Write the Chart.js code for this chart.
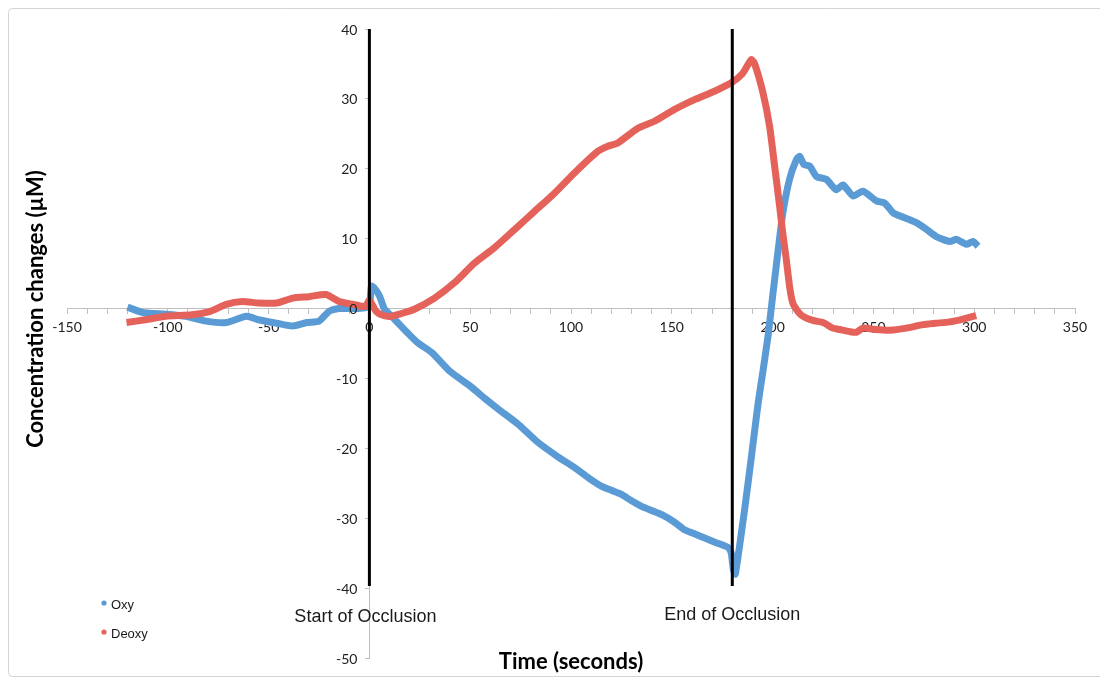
<!DOCTYPE html>
<html>
<head>
<meta charset="utf-8">
<title>Oxy / Deoxy occlusion</title>
<script src="https://cdn.jsdelivr.net/npm/chart.js@4"></script>
<style>
  html, body { margin: 0; padding: 0; background: #fff; }
  canvas { display: block; }
</style>
</head>
<body>
<canvas id="chart" width="1100" height="678"></canvas>
<script>
// Oxy (blue) - time in seconds, concentration change in µM
const oxyTime = [-120, -112, -101, -91, -81, -71, -61, -55, -46, -38, -31, -25, -20, -15, -8, -2.5, 0, 1, 2.5, 5, 7.5, 10, 14, 19, 24, 31, 40, 50, 57, 64, 74, 83, 93, 103, 109, 115, 120, 125, 130, 135, 140, 145, 151, 156, 161, 166, 172, 178, 179.5, 180.5, 181.5, 186, 189.4, 192.7, 195.3, 197.8, 200.2, 202.6, 205.1, 208.4, 211.8, 213.4, 215.5, 218.4, 221.7, 226.6, 231.6, 234.9, 239.9, 244.8, 251.5, 255.6, 259.8, 265.5, 271.3, 276, 281.2, 287.8, 291.2, 296.1, 299.4, 301.9];
const oxyValue = [0.2, -0.6, -0.8, -1.1, -1.8, -2.0, -1.1, -1.6, -2.1, -2.5, -2.0, -1.8, -0.4, 0.0, 0.0, 0.1, 0.5, 3.2, 2.9, 1.8, -0.1, -0.8, -2.0, -3.5, -4.9, -6.3, -9.0, -11.1, -12.8, -14.4, -16.6, -19.0, -21.1, -23.0, -24.3, -25.4, -26.0, -26.6, -27.5, -28.3, -28.9, -29.5, -30.5, -31.6, -32.2, -32.8, -33.5, -34.2, -35.0, -37.3, -38.0, -29.0, -21.4, -13.8, -8.8, -3.8, 2.2, 8.0, 13.7, 18.5, 21.3, 21.8, 20.6, 20.4, 18.9, 18.5, 17.0, 17.7, 16.1, 16.8, 15.4, 15.1, 13.7, 13.0, 12.3, 11.4, 10.3, 9.6, 9.9, 9.2, 9.6, 8.9];

// Deoxy (red)
const deoxyTime = [-120.5, -111, -101, -88, -79, -71, -63, -55, -46, -38, -30, -21.5, -15, -8, -2, 0, 3.3, 7, 10.8, 16, 22.3, 32.3, 42.2, 52.1, 62, 72, 81.9, 91.8, 101.7, 113.3, 118, 123.2, 133.2, 141.4, 151.4, 161.3, 171.2, 179.5, 185, 189.4, 191, 195.2, 198.5, 201, 203.5, 205, 206.8, 208.4, 210, 212.5, 215, 220, 225, 229.9, 233.3, 238.2, 241.5, 244.8, 251, 258, 266.4, 274.6, 281, 287.8, 294.5, 301];
const deoxyValue = [-2.0, -1.6, -1.1, -0.9, -0.4, 0.6, 1.0, 0.8, 0.8, 1.5, 1.7, 2.0, 1.0, 0.6, 0.3, 1.2, -0.4, -1.0, -1.1, -0.7, -0.1, 1.5, 3.7, 6.5, 8.7, 11.3, 13.9, 16.5, 19.4, 22.5, 23.2, 23.7, 25.8, 26.8, 28.5, 29.9, 31.1, 32.3, 33.6, 35.6, 35.1, 30.9, 26.1, 20.4, 14.6, 10.9, 7.0, 3.2, 0.8, -0.4, -1.1, -1.7, -2.0, -2.8, -3.0, -3.3, -3.4, -2.8, -3.0, -3.1, -2.8, -2.3, -2.1, -1.9, -1.5, -1.0];

// occlusion markers (seconds) and their labels
const occlusionTimes = [0, 180];
const occlusionLabels = ['Start of Occlusion', 'End of Occlusion'];
const markerTop = 40;
const markerBottom = -39.7;

const xRange = [-150, 350];
const yRange = [-50, 40];

const BLUE = '#5b9bd5';
const RED = '#e5625b';

const toPoints = (xs, ys) => xs.map((t, i) => ({ x: t, y: ys[i] }));

const decor = {
  id: 'decor',
  beforeDraw(chart) {
    const ctx = chart.ctx;
    ctx.save();
    ctx.strokeStyle = '#d4d4d4';
    ctx.lineWidth = 1;
    ctx.beginPath();
    ctx.roundRect(8.5, 8.5, 1100, 668, 4);
    ctx.stroke();
    ctx.restore();
  },
  afterDatasetsDraw(chart) {
    const { ctx, scales: { x, y } } = chart;
    // y tick labels, left of the centred axis (chart.js ignores padding there)
    ctx.save();
    ctx.fillStyle = '#222';
    ctx.font = '14px Lato, sans-serif';
    ctx.textAlign = 'right';
    ctx.textBaseline = 'middle';
    const axisX = x.getPixelForValue(0);
    y.ticks.forEach(t => ctx.fillText(String(t.value), axisX - 12, y.getPixelForValue(t.value) + 1));
    ctx.restore();

    ctx.save();
    ctx.strokeStyle = '#000';
    ctx.lineWidth = 3;
    ctx.fillStyle = '#1a1a1a';
    ctx.font = '18px "Liberation Sans", Arial, sans-serif';
    ctx.textAlign = 'center';
    ctx.textBaseline = 'middle';
    occlusionTimes.forEach((t, i) => {
      const px = x.getPixelForValue(t);
      ctx.beginPath();
      ctx.moveTo(px, y.getPixelForValue(markerTop));
      ctx.lineTo(px, y.getPixelForValue(markerBottom));
      ctx.stroke();
      ctx.fillText(occlusionLabels[i], px - (i === 0 ? 4 : 0), y.getPixelForValue(-44.1) - (i === 0 ? 0 : 2));
    });
    ctx.restore();
  },
  afterDraw(chart) {
    const ctx = chart.ctx;
    ctx.save();
    // axis titles
    ctx.fillStyle = '#000';
    ctx.font = 'bold 22px Lato, sans-serif';
    ctx.textAlign = 'center';
    ctx.textBaseline = 'middle';
    ctx.fillText('Time (seconds)', 571, 662);
    ctx.translate(36, 309);
    ctx.rotate(-Math.PI / 2);
    ctx.fillText('Concentration changes (µM)', 0, 0);
    ctx.restore();

    // legend
    ctx.save();
    ctx.font = '13px "Liberation Sans", Arial, sans-serif';
    ctx.textBaseline = 'middle';
    chart.data.datasets.forEach((ds, i) => {
      const cy = 604 + i * 29;
      ctx.fillStyle = ds.borderColor;
      ctx.beginPath();
      ctx.arc(104, cy - 1, 2.6, 0, Math.PI * 2);
      ctx.fill();
      ctx.fillStyle = '#1a1a1a';
      ctx.fillText(ds.label, 111, cy + 1);
    });
    ctx.restore();
  }
};

new Chart(document.getElementById('chart'), {
  type: 'scatter',
  data: {
    datasets: [
      {
        label: 'Oxy',
        data: toPoints(oxyTime, oxyValue),
        borderColor: BLUE,
        backgroundColor: BLUE,
        showLine: true,
        borderWidth: 7,
        pointRadius: 0,
        tension: 0.2,
        order: 1
      },
      {
        label: 'Deoxy',
        data: toPoints(deoxyTime, deoxyValue),
        borderColor: RED,
        backgroundColor: RED,
        showLine: true,
        borderWidth: 7,
        pointRadius: 0,
        tension: 0.2,
        order: 0
      }
    ]
  },
  options: {
    responsive: false,
    animation: false,
    devicePixelRatio: 1,
    layout: { padding: { left: 67, right: 25, top: 29, bottom: 20 } },
    plugins: { legend: { display: false }, tooltip: { enabled: false } },
    scales: {
      x: {
        type: 'linear',
        min: xRange[0],
        max: xRange[1],
        position: { y: 0 },
        border: { display: true, color: '#bfbfbf', width: 1 },
        grid: { display: true, drawOnChartArea: false, drawTicks: true, tickLength: 5, color: '#bfbfbf' },
        ticks: {
          stepSize: 10,
          autoSkip: false,
          maxRotation: 0,
          padding: 6,
          color: '#222',
          font: { family: 'Lato', size: 14 },
          callback: v => (v % 50 === 0 ? String(v) : '')
        }
      },
      y: {
        type: 'linear',
        min: yRange[0],
        max: yRange[1],
        position: { x: 0 },
        border: { display: true, color: '#bfbfbf', width: 1 },
        grid: { display: true, drawOnChartArea: false, drawTicks: true, tickLength: 4, color: '#bfbfbf' },
        ticks: { stepSize: 10, autoSkip: false, display: false }
      }
    }
  },
  plugins: [decor]
});
</script>
</body>
</html>
